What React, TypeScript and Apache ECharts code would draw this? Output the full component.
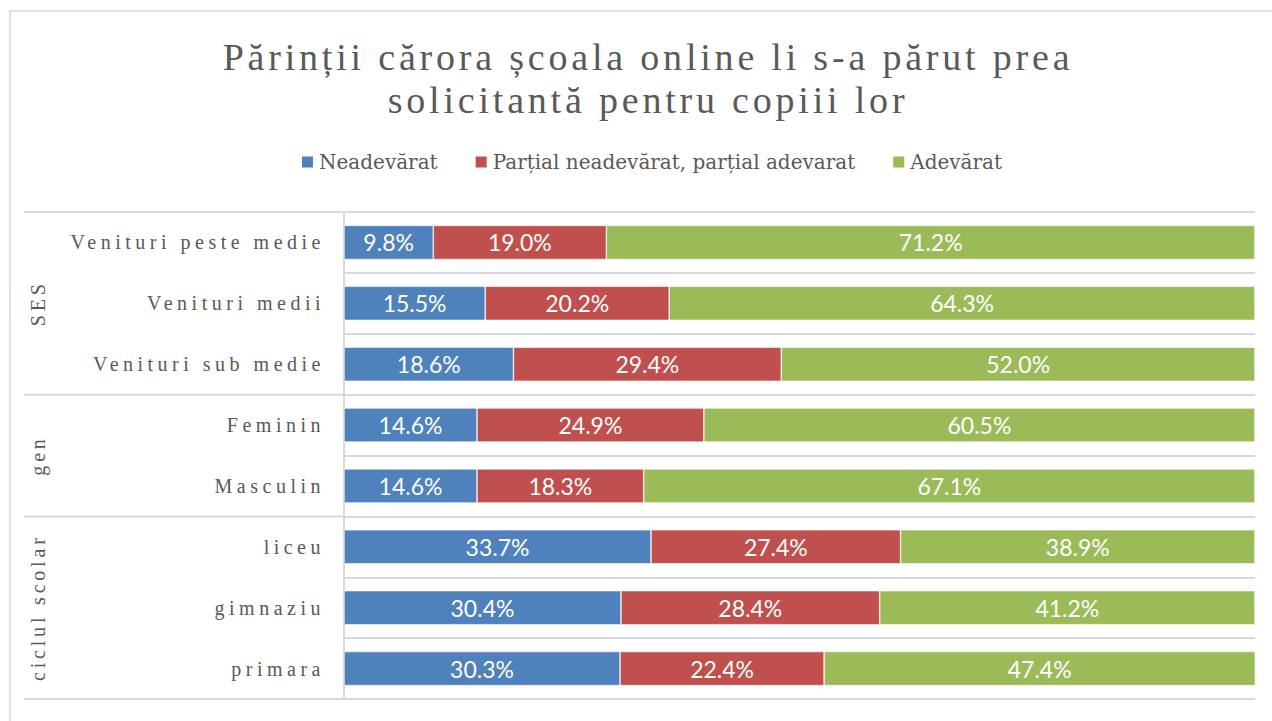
import React, { useEffect, useRef } from "react";
import * as echarts from "echarts";

const titleLines = ["Părinții cărora școala online li s-a părut prea", "solicitantă pentru copiii lor"];
const seriesNames = ["Neadevărat", "Parțial neadevărat, parțial adevarat", "Adevărat"];
const categories = [
  "Venituri peste medie",
  "Venituri medii",
  "Venituri sub medie",
  "Feminin",
  "Masculin",
  "liceu",
  "gimnaziu",
  "primara",
];
const groups = ["SES", "gen", "ciclul scolar"];
const groupSizes = [3, 2, 3];
const neadevarat = [9.8, 15.5, 18.6, 14.6, 14.6, 33.7, 30.4, 30.3];
const partial = [19.0, 20.2, 29.4, 24.9, 18.3, 27.4, 28.4, 22.4];
const adevarat = [71.2, 64.3, 52.0, 60.5, 67.1, 38.9, 41.2, 47.4];
const colors = ["#4F81BD", "#C0504D", "#9BBB59"];

const SERIF = "'Liberation Serif', serif";
const GRAY = "#595959";
const LINE = "#d9d9d9";

export default function App() {
  const ref = useRef<HTMLDivElement>(null);
  useEffect(() => {
    const el = ref.current!;
    const chart = echarts.init(el, undefined, { renderer: "svg" });
    const values = [neadevarat, partial, adevarat];
    const gridLeft = 344;
    const option: any = {
      animation: false,
      backgroundColor: "#ffffff",
      legend: {
        left: 295,
        top: 147,
        itemWidth: 13,
        itemHeight: 13,
        itemGap: 36,
        icon: "rect",
        textStyle: { fontFamily: "'DejaVu Serif', serif", fontSize: 20, color: GRAY },
        data: seriesNames,
      },
      grid: { left: gridLeft, right: 17, top: 212, bottom: 22, containLabel: false },
      xAxis: {
        type: "value",
        min: 0,
        max: 100,
        show: false,
      },
      yAxis: {
        type: "category",
        inverse: true,
        data: categories,
        axisLine: { show: true, lineStyle: { color: LINE, width: 2 } },
        axisTick: { show: false },
        splitLine: { show: true, lineStyle: { color: LINE, width: 2 } },
        axisLabel: { fontFamily: SERIF, fontSize: 20, color: GRAY, margin: 19 },
      },
      series: seriesNames.map((name, i) => ({
        name,
        type: "bar",
        stack: "total",
        data: values[i],
        barCategoryGap: "44%",
        silent: true,
        itemStyle: { color: colors[i], borderColor: "#ffffff", borderWidth: 0.6 },
        label: {
          show: true,
          position: "inside",
          color: "#ffffff",
          fontFamily: "Lato, sans-serif",
          fontSize: 23,
          formatter: (p: any) => Number(p.value).toFixed(1) + "%",
        },
      })),
    };
    chart.setOption(option);

    // Compute group separator positions from the category scale
    const c0 = chart.convertToPixel({ yAxisIndex: 0 }, categories[0]) as number;
    const c1 = chart.convertToPixel({ yAxisIndex: 0 }, categories[1]) as number;
    const band = c1 - c0;
    const edge = (idx: number) => {
      const c = chart.convertToPixel({ yAxisIndex: 0 }, categories[Math.min(idx, categories.length - 1)]) as number;
      return idx >= categories.length ? c + band / 2 : c - band / 2;
    };
    const graphics: any[] = [
      {
        type: "rect",
        silent: true,
        shape: { x: 10, y: 11, width: 1400, height: 900 },
        style: { fill: "none", stroke: LINE, lineWidth: 1.5 },
      },
    ];
    titleLines.forEach((t, i) => {
      graphics.push({
        type: "text",
        x: 648,
        y: 57 + i * 43,
        style: {
          text: t,
          fontFamily: SERIF,
          fontSize: 38,
          fill: GRAY,
          textAlign: "center",
          textVerticalAlign: "middle",
        },
      });
    });
    let start = 0;
    const bounds: number[] = [edge(0)];
    groups.forEach((g, gi) => {
      const end = start + groupSizes[gi];
      const top = edge(start);
      const bottom = edge(end);
      bounds.push(bottom);
      graphics.push({
        type: "text",
        x: 38,
        y: (top + bottom) / 2,
        rotation: Math.PI / 2,
        style: {
          text: g,
          fontFamily: SERIF,
          fontSize: 20,
          fill: GRAY,
          textAlign: "center",
          textVerticalAlign: "middle",
        },
      });
      start = end;
    });
    bounds.forEach((y) => {
      graphics.push({
        type: "line",
        silent: true,
        shape: { x1: 24, y1: y, x2: gridLeft, y2: y },
        style: { stroke: LINE, lineWidth: 2 },
      });
    });
    chart.setOption({ graphic: graphics });

    const applySpacing = () => {
      el.querySelectorAll("text").forEach((t) => {
        const s = (t.textContent || "").trim();
        if (titleLines.includes(s)) t.setAttribute("letter-spacing", "3.8");
        else if (categories.includes(s)) t.setAttribute("letter-spacing", "4.5");
        else if (groups.includes(s)) t.setAttribute("letter-spacing", "3.8");
      });
    };
    applySpacing();
    chart.on("finished", applySpacing);
    return () => chart.dispose();
  }, []);
  return (
    <div
      ref={ref}
      style={{ position: "fixed", left: 0, top: 0, width: 1272, height: 721, background: "#fff" }}
    />
  );
}
